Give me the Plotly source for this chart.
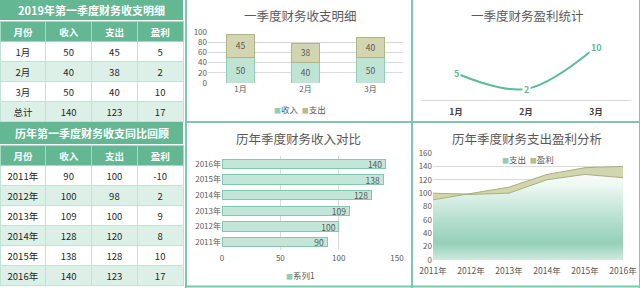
import plotly.graph_objects as go

W, H = 640, 288


def fx(x):
    return x / W


def fy(y):
    return 1 - y / H


# ---------------- data ----------------
q_months = ["1月", "2月", "3月"]
q_income = [50, 40, 50]
q_expense = [45, 38, 40]
q_profit = [5, 2, 10]
q_total_label = "总计"
q_totals = [140, 123, 17]

years = ["2011年", "2012年", "2013年", "2014年", "2015年", "2016年"]
y_income = [90, 100, 109, 128, 138, 140]
y_expense = [100, 98, 100, 120, 128, 123]
y_profit = [-10, 2, 9, 8, 10, 17]

table_headers = ["月份", "收入", "支出", "盈利"]
table1_title = "2019年第一季度财务收支明细"
table2_title = "历年第一季度财务收支同比回顾"
chart_titles = ["一季度财务收支明细", "一季度财务盈利统计", "历年季度财务收入对比", "历年季度财务支出盈利分析"]
series_income = "收入"
series_expense = "支出"
series_profit = "盈利"
series_default = "系列1"

# ---------------- styles ----------------
FONT = "Noto Sans CJK SC"
GREEN = "#63b793"
LIGHT = "#dcf0e7"
GRAY_TXT = "#595959"
GRID = "#d9d9d9"
TEAL_BAR = "#bfe4d5"
TEAL_LINE = "#8fcfb7"
OLIVE_BAR = "#d3d5b0"
OLIVE_LINE = "#b0b585"
LINE_TEAL = "#5dbb97"
BORDER = "#7fc6ac"

fig = go.Figure()

# ---------------- tables ----------------
t1_cols = [q_months + [q_total_label],
           q_income + [q_totals[0]],
           q_expense + [q_totals[1]],
           q_profit + [q_totals[2]]]
t1_fill = ["white" if i % 2 == 0 else LIGHT for i in range(len(t1_cols[0]))]

t2_cols = [years, y_income, y_expense, y_profit]
t2_fill = ["white" if i % 2 == 0 else LIGHT for i in range(len(years))]


def add_table(cols, fills, ytop, ybot):
    fig.add_trace(go.Table(
        domain=dict(x=[0, fx(183)], y=[fy(ybot), fy(ytop)]),
        columnwidth=[1, 1, 1, 1],
        header=dict(values=table_headers,
                    fill_color=GREEN, align="center", height=20,
                    font=dict(family=FONT, size=9.5, color="white", weight="bold"),
                    line=dict(color="#a7dac5", width=1)),
        cells=dict(values=cols, fill_color=[fills] * 4, align="center", height=20,
                   font=dict(family=FONT, size=9.5, color="#262626"),
                   line=dict(color="#bfe3d4", width=1)),
    ))


add_table(t1_cols, t1_fill, 21, 122)
add_table(t2_cols, t2_fill, 145, 286)

# ---------------- chart A: stacked bars ----------------
bar_txt = dict(family=FONT, size=9, color=GRAY_TXT)
fig.add_trace(go.Bar(
    x=q_months, y=q_income, name=series_income, xaxis="x", yaxis="y",
    width=0.42, marker=dict(color=TEAL_BAR, line=dict(color=TEAL_LINE, width=1)),
    text=q_income, textposition="inside", insidetextanchor="middle", textangle=0,
    constraintext="none", textfont=bar_txt, showlegend=False))
fig.add_trace(go.Bar(
    x=q_months, y=q_expense, name=series_expense, xaxis="x", yaxis="y",
    width=0.42, marker=dict(color=OLIVE_BAR, line=dict(color=OLIVE_LINE, width=1)),
    text=q_expense, textposition="inside", insidetextanchor="middle", textangle=0,
    constraintext="none", textfont=bar_txt, showlegend=False))

# ---------------- chart B: profit line ----------------
fig.add_trace(go.Scatter(
    x=q_months, y=q_profit, mode="lines", xaxis="x2", yaxis="y2",
    line=dict(color=LINE_TEAL, width=2, shape="spline", smoothing=1.0),
    showlegend=False, cliponaxis=False))

# ---------------- chart C: horizontal bars ----------------
fig.add_trace(go.Bar(
    y=years, x=y_income, orientation="h", name=series_default, xaxis="x3", yaxis="y3",
    width=0.58, marker=dict(color="#c3e6d8", line=dict(color="#86c8af", width=1)),
    text=y_income, textposition="inside", insidetextanchor="end", textangle=0,
    constraintext="none", textfont=dict(family=FONT, size=8.5, color=GRAY_TXT),
    showlegend=False))

# ---------------- chart D: stacked area ----------------
fig.add_trace(go.Scatter(
    x=years, y=y_expense, name=series_expense, xaxis="x4", yaxis="y4",
    mode="lines", stackgroup="one", line=dict(color="#a9b07c", width=1),
    fillgradient=dict(type="vertical", start=0, stop=140,
                      colorscale=[[0, "#cfeadf"], [0.18, "#94d0b8"], [0.45, "#b8e0d0"],
                                  [0.8, "#eef8f3"], [1, "#ffffff"]]),
    showlegend=False))
fig.add_trace(go.Scatter(
    x=years, y=y_profit, name=series_profit, xaxis="x4", yaxis="y4",
    mode="lines", stackgroup="one", line=dict(color="#a9b07c", width=1),
    fillcolor="#d2d5ad", showlegend=False))

# ---------------- axes ----------------
tickf = dict(family=FONT, size=8, color=GRAY_TXT)
common = dict(automargin=False, fixedrange=True)
layout_axes = dict(
    xaxis=dict(domain=[fx(208), fx(403)], anchor="y", type="category", tickfont=tickf,
               showgrid=False, showline=False, ticks="", **common),
    yaxis=dict(domain=[fy(83), fy(32)], anchor="x", range=[0, 100], dtick=20, tickfont=tickf,
               showgrid=True, gridcolor=GRID, zeroline=False, showline=False, ticks="", **common),
    xaxis2=dict(domain=[fx(421), fx(631)], anchor="y2", type="category", range=[-0.5, 2.5],
                tickfont=dict(family=FONT, size=8.5, color="#404040", weight="bold"),
                showgrid=False, showline=True, linecolor=GRID, ticks="", ticklabelstandoff=4,
                **common),
    yaxis2=dict(domain=[fy(99.5), fy(26)], anchor="x2", range=[0, 14], visible=False, **common),
    xaxis3=dict(domain=[fx(222), fx(397)], anchor="y3", range=[0, 150], dtick=50, tickfont=tickf,
                showgrid=True, gridcolor=GRID, zeroline=False, showline=False, ticks="",
                ticklabelstandoff=2, **common),
    yaxis3=dict(domain=[fy(250), fy(156)], anchor="x3", type="category", range=[-0.5, 5.5],
                tickfont=tickf, showgrid=False, showline=False, ticks="", **common),
    xaxis4=dict(domain=[fx(433), fx(623)], anchor="y4", type="category", range=[0, 5],
                tickfont=dict(family=FONT, size=8.5, color=GRAY_TXT), ticklabelstandoff=4,
                showgrid=False, showline=False, ticks="", **common),
    yaxis4=dict(domain=[fy(260), fy(153)], anchor="x4", range=[0, 160], dtick=20, tickfont=tickf,
                showgrid=True, gridcolor=GRID, zeroline=False, showline=False, ticks="", **common),
)

# ---------------- titles / legends / decorations ----------------
annotations = []
shapes = []
for cx, cy, t in [(300, 15, chart_titles[0]), (527, 15, chart_titles[1]),
                  (298, 138, chart_titles[2]), (527, 138, chart_titles[3])]:
    annotations.append(dict(x=fx(cx), y=fy(cy), xref="paper", yref="paper", text=t,
                            xanchor="center", yanchor="middle", showarrow=False,
                            font=dict(family=FONT, size=12.5, color=GRAY_TXT)))

# data labels of the profit line (white boxes over the line, as in the reference)
for m, v in zip(q_months, q_profit):
    annotations.append(dict(x=m, y=v, xref="x2", yref="y2", text="<b>%d</b>" % v,
                            showarrow=False, xanchor="center", yanchor="middle",
                            bgcolor="white", borderpad=1,
                            font=dict(family=FONT, size=9, color=LINE_TEAL)))


def sq(color):
    return '<span style="color:%s;font-size:7px">■</span>' % color


legend_items = [
    (300, 109, sq("#8fcfb7") + series_income + "  " + sq("#b8bc8a") + series_expense),
    (300, 275, sq("#8fcfb7") + series_default),
    (528, 159, sq("#8fcfb7") + series_expense + "  " + sq("#b8bc8a") + series_profit),
]
for cx, cy, t in legend_items:
    annotations.append(dict(x=fx(cx), y=fy(cy), xref="paper", yref="paper", text=t,
                            xanchor="center", yanchor="middle", showarrow=False,
                            font=dict(family=FONT, size=8.5, color=GRAY_TXT)))

for (y0, y1, t) in [(0, 20, table1_title), (122, 144, table2_title)]:
    shapes.append(dict(type="rect", xref="paper", yref="paper", x0=0, x1=fx(183),
                       y0=fy(y1), y1=fy(y0), fillcolor=GREEN, line=dict(width=0), layer="below"))
    annotations.append(dict(x=fx(91.5), y=fy((y0 + y1) / 2), xref="paper", yref="paper",
                            text="<b>%s</b>" % t, showarrow=False, xanchor="center",
                            yanchor="middle", font=dict(family=FONT, size=11, color="white")))

for (x0, y0, x1, y1, w) in [(186, 0, 186, 288, 2), (412, 0, 412, 288, 2), (186, 122, 640, 122, 2),
                            (186, 286.5, 640, 286.5, 2), (639.5, 0, 639.5, 288, 1)]:
    shapes.append(dict(type="line", xref="paper", yref="paper", x0=fx(x0), x1=fx(x1),
                       y0=fy(y0), y1=fy(y1), line=dict(color=BORDER, width=w)))

fig.update_layout(
    width=W, height=H, margin=dict(l=0, r=0, t=0, b=0, autoexpand=False),
    paper_bgcolor="white", plot_bgcolor="rgba(0,0,0,0)",
    font=dict(family=FONT, color=GRAY_TXT),
    barmode="stack", bargap=0.5, showlegend=False,
    uniformtext=dict(mode="show", minsize=8),
    annotations=annotations, shapes=shapes,
    **layout_axes,
)

fig.write_html("out.html")
